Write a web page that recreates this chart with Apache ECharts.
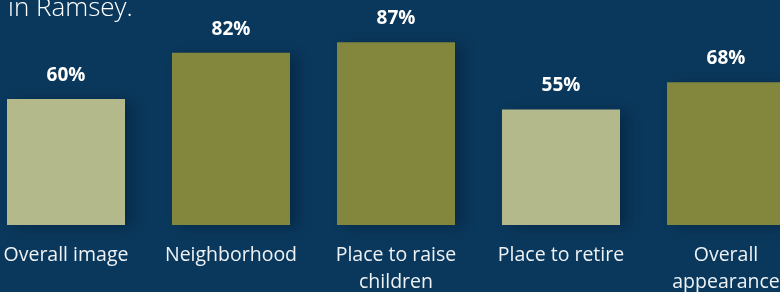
<!DOCTYPE html>
<html>
<head>
    <meta charset="utf-8">
    <title>Ramsey</title>
    <script src="https://cdn.jsdelivr.net/npm/echarts@6/dist/echarts.min.js"></script>
    <style type="text/css">
        html, body { margin: 0; padding: 0; background: #0a385c; }
        #main { width: 780px; height: 292px; }
    </style>
</head>
<body>
<div id="main"></div>
<script type="text/javascript">
    var categories = ['Overall image', 'Neighborhood', 'Place to raise\nchildren', 'Place to retire', 'Overall\nappearance'];
    var values = [60, 82, 87, 55, 68];
    var barColors = ['#b3b98b', '#82873d', '#82873d', '#b3b98b', '#82873d'];

    var chart = echarts.init(document.getElementById('main'));
    chart.setOption({
        backgroundColor: '#0a385c',
        animation: false,
        title: {
            text: 'in Ramsey.',
            left: 3,
            top: -9,
            textStyle: {
                color: '#ffffff',
                fontFamily: 'Open Sans',
                fontWeight: 300,
                fontSize: 26
            }
        },
        grid: {
            left: -16.5,
            right: -28.5,
            top: 15,
            bottom: 67,
            outerBoundsMode: 'none'
        },
        xAxis: {
            type: 'category',
            data: categories,
            axisLine: {show: false},
            axisTick: {show: false},
            axisLabel: {
                interval: 0,
                margin: 17,
                color: '#eef2f5',
                fontFamily: 'Open Sans',
                fontSize: 19.5,
                lineHeight: 27
            }
        },
        yAxis: {
            type: 'value',
            min: 0,
            max: 100,
            show: false,
            splitLine: {show: false}
        },
        series: [{
            type: 'bar',
            barWidth: 118,
            data: values.map(function (v, i) {
                return {value: v, itemStyle: {color: barColors[i]}};
            }),
            itemStyle: {
                shadowColor: 'rgba(0, 12, 30, 0.3)',
                shadowBlur: 12,
                shadowOffsetX: 8,
                shadowOffsetY: 2
            },
            label: {
                show: true,
                position: 'top',
                distance: 14,
                formatter: '{c}%',
                color: '#ffffff',
                fontFamily: 'Open Sans',
                fontWeight: 'bold',
                fontSize: 19,
                letterSpacing: 1
            }
        }]
    });
</script>
</body>
</html>
